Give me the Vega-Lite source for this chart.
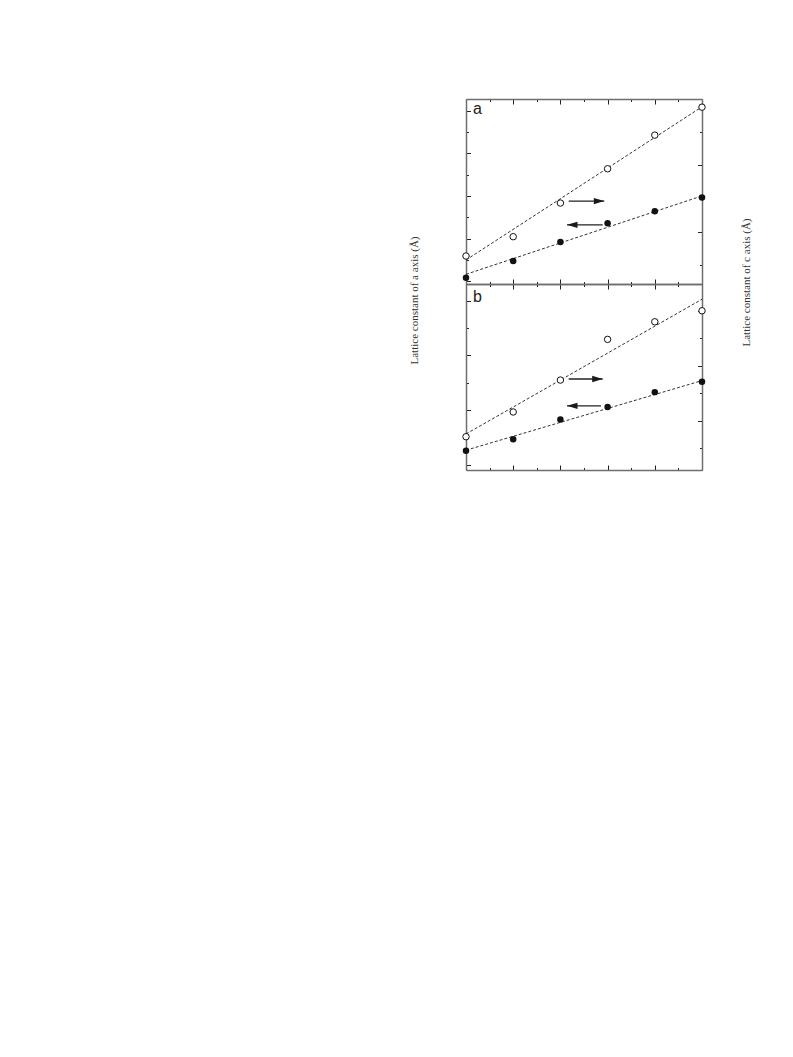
{
  "$schema": "https://vega.github.io/schema/vega-lite/v6.json",
  "padding": {"left": 408, "top": 98, "right": 5, "bottom": 5},
  "background": "white",
  "bounds": "flush",
  "datasets": {
    "pts": [
      {"panel": "a", "series": "a", "x": 0, "value": 3.2408},
      {"panel": "a", "series": "a", "x": 1, "value": 3.2447},
      {"panel": "a", "series": "a", "x": 2, "value": 3.2492},
      {"panel": "a", "series": "a", "x": 3, "value": 3.2536},
      {"panel": "a", "series": "a", "x": 4, "value": 3.2564},
      {"panel": "a", "series": "a", "x": 5, "value": 3.2596},
      {"panel": "a", "series": "c", "x": 0, "value": 5.1927},
      {"panel": "a", "series": "c", "x": 1, "value": 5.1985},
      {"panel": "a", "series": "c", "x": 2, "value": 5.2086},
      {"panel": "a", "series": "c", "x": 3, "value": 5.2189},
      {"panel": "a", "series": "c", "x": 4, "value": 5.2290},
      {"panel": "a", "series": "c", "x": 5, "value": 5.2374},
      {"panel": "b", "series": "a", "x": 0, "value": 3.2426},
      {"panel": "b", "series": "a", "x": 1, "value": 3.2447},
      {"panel": "b", "series": "a", "x": 2, "value": 3.2483},
      {"panel": "b", "series": "a", "x": 3, "value": 3.2506},
      {"panel": "b", "series": "a", "x": 4, "value": 3.2533},
      {"panel": "b", "series": "a", "x": 5, "value": 3.2552},
      {"panel": "b", "series": "c", "x": 0, "value": 5.1921},
      {"panel": "b", "series": "c", "x": 1, "value": 5.1966},
      {"panel": "b", "series": "c", "x": 2, "value": 5.2024},
      {"panel": "b", "series": "c", "x": 3, "value": 5.2098},
      {"panel": "b", "series": "c", "x": 4, "value": 5.2130},
      {"panel": "b", "series": "c", "x": 5, "value": 5.2150}
    ],
    "fit": [
      {"panel": "a", "series": "a", "x": 0, "value": 3.2416},
      {"panel": "a", "series": "a", "x": 5, "value": 3.2600},
      {"panel": "a", "series": "c", "x": 0, "value": 5.1915},
      {"panel": "a", "series": "c", "x": 5, "value": 5.2375},
      {"panel": "b", "series": "a", "x": 0, "value": 3.2427},
      {"panel": "b", "series": "a", "x": 5, "value": 3.2554},
      {"panel": "b", "series": "c", "x": 0, "value": 5.1926},
      {"panel": "b", "series": "c", "x": 5, "value": 5.2171}
    ],
    "arrows": [
      {"panel": "a", "series": "c", "end": "tail", "x": 2.176, "value": 5.2092},
      {"panel": "a", "series": "c", "end": "tip", "x": 2.930, "value": 5.2092},
      {"panel": "a", "series": "a", "end": "tail", "x": 2.896, "value": 3.2532},
      {"panel": "a", "series": "a", "end": "tip", "x": 2.140, "value": 3.2532},
      {"panel": "b", "series": "c", "end": "tail", "x": 2.176, "value": 5.2026},
      {"panel": "b", "series": "c", "end": "tip", "x": 2.896, "value": 5.2026},
      {"panel": "b", "series": "a", "end": "tail", "x": 2.860, "value": 3.2508},
      {"panel": "b", "series": "a", "end": "tip", "x": 2.140, "value": 3.2508}
    ],
    "labels": [
      {"panel": "a", "x": 0.15, "value": 3.2792, "text": "a"},
      {"panel": "b", "x": 0.15, "value": 3.2697, "text": "b"}
    ]
  },
  "spacing": 0,
  "vconcat": [
    {
      "width": 236,
      "height": 185,
      "resolve": {"scale": {"y": "independent"}, "axis": {"x": "independent"}},
      "layer": [
        {
          "encoding": {
            "x": {"field": "x", "type": "quantitative",
              "scale": {"domain": [0, 5], "nice": false, "zero": false},
              "axis": {"orient": "bottom", "title": null, "values": [0, 0.5, 1, 1.5, 2, 2.5, 3, 3.5, 4, 4.5, 5],
                "tickSize": {"condition": {"test": "datum.value % 1 === 0", "value": -5}, "value": -2.5}}},
            "y": {"field": "value", "type": "quantitative",
              "scale": {"domain": [3.23932, 3.28275], "nice": false, "zero": false},
              "axis": {"orient": "left", "title": "Lattice constant of a axis (Å)",
                "values": [3.24, 3.245, 3.25, 3.255, 3.26, 3.265, 3.27, 3.275, 3.28],
                "tickSize": {"condition": {"test": "abs(datum.value*100 - round(datum.value*100)) < 0.001", "value": -4.5}, "value": -2.5},
                "titleX": -52, "titleY": 201, "titleAngle": 270, "titleAlign": "center", "titleBaseline": "middle"}}
          },
          "layer": [
            {"data": {"name": "fit"}, "transform": [{"filter": "datum.panel === 'a' && datum.series === 'a'"}],
              "mark": {"type": "line", "strokeDash": [3, 2], "strokeWidth": 1, "color": "#333"}},
            {"data": {"name": "arrows"}, "transform": [{"filter": "datum.panel === 'a' && datum.series === 'a'"}],
              "mark": {"type": "line", "strokeWidth": 1.3, "color": "#222"}},
            {"data": {"name": "arrows"}, "transform": [{"filter": "datum.panel === 'a' && datum.series === 'a' && datum.end === 'tip'"}],
              "mark": {"type": "point", "shape": "M0,0L2,-0.6L2,0.6Z", "size": 110, "filled": true, "color": "#1a1a1a", "opacity": 1}},
            {"data": {"name": "pts"}, "transform": [{"filter": "datum.panel === 'a' && datum.series === 'a'"}],
              "mark": {"type": "point", "shape": "circle", "size": 42, "filled": true, "color": "#111", "opacity": 1}},
            {"data": {"name": "labels"}, "transform": [{"filter": "datum.panel === 'a'"}],
              "mark": {"type": "text", "align": "left", "baseline": "alphabetic", "font": "Liberation Sans", "fontSize": 16, "color": "#222"},
              "encoding": {"text": {"field": "text"}}}
          ]
        },
        {
          "encoding": {
            "x": {"field": "x", "type": "quantitative",
              "scale": {"domain": [0, 5], "nice": false, "zero": false},
              "axis": {"orient": "top", "title": null, "values": [0, 0.5, 1, 1.5, 2, 2.5, 3, 3.5, 4, 4.5, 5],
                "tickSize": {"condition": {"test": "datum.value % 1 === 0", "value": -5}, "value": -2.5}}},
            "y": {"field": "value", "type": "quantitative",
              "scale": {"domain": [5.18429, 5.23985], "nice": false, "zero": false},
              "axis": {"orient": "right", "title": "Lattice constant of c axis (Å)",
                "values": [5.19, 5.2, 5.21, 5.22, 5.23],
                "tickSize": {"condition": {"test": "round(datum.value*100) % 2 === 0", "value": -4.5}, "value": -2.5},
                "titleX": 44, "titleY": 183, "titleAngle": 270, "titleAlign": "center", "titleBaseline": "middle"}}
          },
          "layer": [
            {"data": {"name": "fit"}, "transform": [{"filter": "datum.panel === 'a' && datum.series === 'c'"}],
              "mark": {"type": "line", "strokeDash": [3, 2], "strokeWidth": 1, "color": "#333"}},
            {"data": {"name": "arrows"}, "transform": [{"filter": "datum.panel === 'a' && datum.series === 'c'"}],
              "mark": {"type": "line", "strokeWidth": 1.3, "color": "#222"}},
            {"data": {"name": "arrows"}, "transform": [{"filter": "datum.panel === 'a' && datum.series === 'c' && datum.end === 'tip'"}],
              "mark": {"type": "point", "shape": "M0,0L-2,-0.6L-2,0.6Z", "size": 110, "filled": true, "color": "#1a1a1a", "opacity": 1}},
            {"data": {"name": "pts"}, "transform": [{"filter": "datum.panel === 'a' && datum.series === 'c'"}],
              "mark": {"type": "point", "shape": "circle", "size": 42, "fill": "white", "stroke": "#111", "strokeWidth": 1, "opacity": 1, "fillOpacity": 1}}
          ]
        }
      ]
    },
    {
      "width": 236,
      "height": 186,
      "resolve": {"scale": {"y": "independent"}, "axis": {"x": "independent"}},
      "layer": [
        {
          "encoding": {
            "x": {"field": "x", "type": "quantitative",
              "scale": {"domain": [0, 5], "nice": false, "zero": false},
              "axis": {"orient": "bottom", "title": null, "values": [0, 0.5, 1, 1.5, 2, 2.5, 3, 3.5, 4, 4.5, 5],
                "tickSize": {"condition": {"test": "datum.value % 1 === 0", "value": -5}, "value": -2.5}}},
            "y": {"field": "value", "type": "quantitative",
              "scale": {"domain": [3.23909, 3.27303], "nice": false, "zero": false},
              "axis": {"orient": "left", "title": null,
                "values": [3.24, 3.245, 3.25, 3.255, 3.26, 3.265, 3.27],
                "tickSize": {"condition": {"test": "abs(datum.value*100 - round(datum.value*100)) < 0.001", "value": -4.5}, "value": -2.5}}}
          },
          "layer": [
            {"data": {"name": "fit"}, "transform": [{"filter": "datum.panel === 'b' && datum.series === 'a'"}],
              "mark": {"type": "line", "strokeDash": [3, 2], "strokeWidth": 1, "color": "#333"}},
            {"data": {"name": "arrows"}, "transform": [{"filter": "datum.panel === 'b' && datum.series === 'a'"}],
              "mark": {"type": "line", "strokeWidth": 1.3, "color": "#222"}},
            {"data": {"name": "arrows"}, "transform": [{"filter": "datum.panel === 'b' && datum.series === 'a' && datum.end === 'tip'"}],
              "mark": {"type": "point", "shape": "M0,0L2,-0.6L2,0.6Z", "size": 110, "filled": true, "color": "#1a1a1a", "opacity": 1}},
            {"data": {"name": "pts"}, "transform": [{"filter": "datum.panel === 'b' && datum.series === 'a'"}],
              "mark": {"type": "point", "shape": "circle", "size": 42, "filled": true, "color": "#111", "opacity": 1}},
            {"data": {"name": "labels"}, "transform": [{"filter": "datum.panel === 'b'"}],
              "mark": {"type": "text", "align": "left", "baseline": "alphabetic", "font": "Liberation Sans", "fontSize": 16, "color": "#222"},
              "encoding": {"text": {"field": "text"}}}
          ]
        },
        {
          "encoding": {
            "x": {"field": "x", "type": "quantitative",
              "scale": {"domain": [0, 5], "nice": false, "zero": false},
              "axis": {"orient": "top", "title": null, "values": [0, 0.5, 1, 1.5, 2, 2.5, 3, 3.5, 4, 4.5, 5],
                "tickSize": {"condition": {"test": "datum.value % 1 === 0", "value": -5}, "value": -2.5}}},
            "y": {"field": "value", "type": "quantitative",
              "scale": {"domain": [5.18605, 5.21987], "nice": false, "zero": false},
              "axis": {"orient": "right", "title": null,
                "values": [5.19, 5.195, 5.2, 5.205, 5.21, 5.215],
                "tickSize": {"condition": {"test": "round(datum.value*200) % 2 === 1", "value": -4.5}, "value": -2.5}}}
          },
          "layer": [
            {"data": {"name": "fit"}, "transform": [{"filter": "datum.panel === 'b' && datum.series === 'c'"}],
              "mark": {"type": "line", "strokeDash": [3, 2], "strokeWidth": 1, "color": "#333"}},
            {"data": {"name": "arrows"}, "transform": [{"filter": "datum.panel === 'b' && datum.series === 'c'"}],
              "mark": {"type": "line", "strokeWidth": 1.3, "color": "#222"}},
            {"data": {"name": "arrows"}, "transform": [{"filter": "datum.panel === 'b' && datum.series === 'c' && datum.end === 'tip'"}],
              "mark": {"type": "point", "shape": "M0,0L-2,-0.6L-2,0.6Z", "size": 110, "filled": true, "color": "#1a1a1a", "opacity": 1}},
            {"data": {"name": "pts"}, "transform": [{"filter": "datum.panel === 'b' && datum.series === 'c'"}],
              "mark": {"type": "point", "shape": "circle", "size": 42, "fill": "white", "stroke": "#111", "strokeWidth": 1, "opacity": 1, "fillOpacity": 1}}
          ]
        }
      ]
    }
  ],
  "config": {
    "view": {"stroke": null},
    "axis": {
      "labels": false,
      "grid": false,
      "domainColor": "#6e6e6e",
      "domainWidth": 1.5,
      "tickColor": "#222",
      "tickWidth": 1,
      "titleFont": "Liberation Serif",
      "titleFontSize": 11,
      "titleFontWeight": "normal",
      "titleColor": "#333",
      "titlePadding": 0
    }
  }
}
